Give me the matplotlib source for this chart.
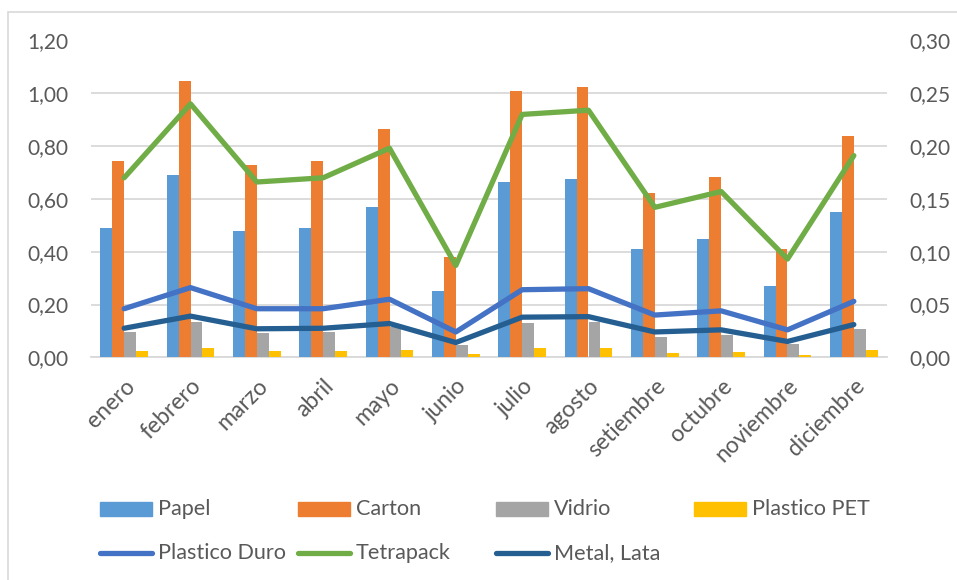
import numpy as np
import matplotlib
matplotlib.use("Agg")
import matplotlib.pyplot as plt
from matplotlib.patches import Rectangle
from matplotlib.lines import Line2D

plt.rcParams['font.family'] = ['Lato', 'DejaVu Sans']

meses = ['enero', 'febrero', 'marzo', 'abril', 'mayo', 'junio', 'julio',
         'agosto', 'setiembre', 'octubre', 'noviembre', 'diciembre']

# bar series (left axis)
papel = [0.49, 0.69, 0.48, 0.49, 0.57, 0.25, 0.665, 0.675, 0.41, 0.45, 0.27, 0.55]
carton = [0.745, 1.048, 0.727, 0.745, 0.865, 0.38, 1.009, 1.024, 0.621, 0.684, 0.41, 0.838]
vidrio = [0.097, 0.135, 0.093, 0.097, 0.116, 0.047, 0.130, 0.133, 0.078, 0.084, 0.050, 0.108]
plastico_pet = [0.024, 0.034, 0.024, 0.024, 0.028, 0.011, 0.034, 0.034, 0.018, 0.020, 0.010, 0.028]

# line series (right axis)
plastico_duro = [0.046, 0.066, 0.046, 0.046, 0.055, 0.024, 0.064, 0.065, 0.040, 0.044, 0.026, 0.053]
tetrapack = [0.170, 0.240, 0.166, 0.170, 0.198, 0.087, 0.230, 0.234, 0.142, 0.157, 0.093, 0.191]
metal_lata = [0.0275, 0.039, 0.027, 0.0275, 0.032, 0.014, 0.038, 0.0385, 0.024, 0.026, 0.015, 0.031]

bar_series = [('Papel', papel, '#5B9BD5'), ('Carton', carton, '#ED7D31'),
              ('Vidrio', vidrio, '#A5A5A5'), ('Plastico PET', plastico_pet, '#FFC000')]
line_series = [('Plastico Duro', plastico_duro, '#4472C4'),
               ('Tetrapack', tetrapack, '#70AD47'),
               ('Metal, Lata', metal_lata, '#255E91')]

W, H = 957, 580
fig = plt.figure(figsize=(W / 100, H / 100), dpi=100)
ax = fig.add_axes([91 / W, 1 - 357.3 / H, 796 / W, 316.8 / H])
ax2 = ax.twinx()

text_col = '#595959'
grid_col = '#D9D9D9'
fs = 15

x = np.arange(len(meses))
bw = 0.18
for i, (name, vals, col) in enumerate(bar_series):
    ax.bar(x + (i - 1.5) * bw, vals, width=bw, color=col, zorder=3)

for name, vals, col in line_series:
    ax2.plot(x, vals, color=col, lw=3.8, solid_capstyle='round',
             solid_joinstyle='round', zorder=3)

ax.set_xlim(-0.5, len(meses) - 0.5)
ax.set_ylim(0, 1.2)
ax2.set_ylim(0, 0.30)
ax.set_yticks(np.arange(0, 1.21, 0.2))
ax2.set_yticks(np.arange(0, 0.301, 0.05))
ax.set_yticklabels([f'{v:.2f}'.replace('.', ',') for v in np.arange(0, 1.21, 0.2)])
ax2.set_yticklabels([f'{v:.2f}'.replace('.', ',') for v in np.arange(0, 0.301, 0.05)])
ax.set_xticks(x)
ax.set_xticklabels(meses, rotation=45, ha='right', rotation_mode='anchor', fontsize=16.5)

ax.grid(axis='y', color=grid_col, lw=1.3, zorder=0)
ax.set_axisbelow(True)
for a in (ax, ax2):
    for s in a.spines.values():
        s.set_visible(False)
    a.tick_params(axis='y', length=0, colors=text_col, labelsize=fs, pad=16)
ax.tick_params(axis='x', length=0, colors=text_col, pad=13)
ax.spines['bottom'].set_visible(True)
ax.spines['bottom'].set_color(grid_col)
ax.spines['bottom'].set_linewidth(1.3)

# chart frame
fig.add_artist(Rectangle((8 / W, -0.1), 1.2, 1.1 - 12 / H, transform=fig.transFigure,
                         fill=False, edgecolor=grid_col, lw=1.2))

# legend laid out like the original, 4 columns of 200 px
def fx(px):
    return px / W

def fy(py):
    return 1 - py / H

leg_fs = 15.6
for i, (name, vals, col) in enumerate(bar_series):
    x0 = 100 + 198 * i
    fig.add_artist(Rectangle((fx(x0), fy(516)), fx(52), 14 / H, transform=fig.transFigure,
                             color=col))
    fig.text(fx(x0 + 58), fy(509), name, color=text_col, fontsize=leg_fs, va='center')
for i, (name, vals, col) in enumerate(line_series):
    x0 = 100 + 198 * i
    fig.add_artist(Line2D([fx(x0), fx(x0 + 52)], [fy(553), fy(553)], transform=fig.transFigure,
                          color=col, lw=3.8, solid_capstyle='round'))
    fig.text(fx(x0 + 58), fy(553), name, color=text_col, fontsize=leg_fs, va='center')

fig.savefig('out.png', dpi=100, facecolor='white')
